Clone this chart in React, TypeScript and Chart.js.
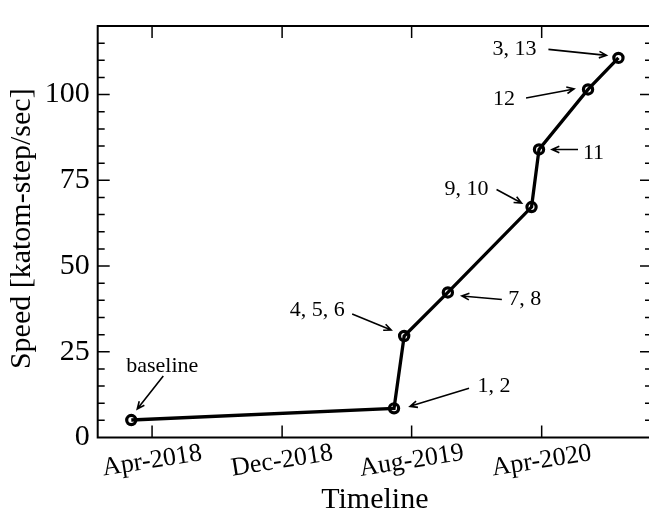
import React, { useEffect, useRef } from 'react';
import { Chart, registerables } from 'chart.js';

Chart.register(...registerables);

// ---- data ----
const DATES = ['2018-02-21', '2019-06-29', '2019-07-18', '2019-10-08', '2020-03-13', '2020-03-27', '2020-06-27', '2020-08-23'];
const SPEED = [5.1, 8.5, 29.6, 42.3, 67.2, 84.0, 101.5, 110.7];
const POINT_LABELS = ['baseline', '1, 2', '4, 5, 6', '7, 8', '9, 10', '11', '12', '3, 13'];

const X_TICK_DATES = ['2018-04-01', '2018-12-01', '2019-08-01', '2020-04-01'];
const X_TICK_LABELS = ['Apr-2018', 'Dec-2018', 'Aug-2019', 'Apr-2020'];
const X_MIN_DATE = '2017-12-20';
const X_MAX_DATE = '2020-10-25';

const Y_TICKS = [0, 25, 50, 75, 100];
const Y_MIN = 0;
const Y_MAX = 120;
const Y_MINOR_STEP = 5;

const X_TITLE = 'Timeline';
const Y_TITLE = 'Speed [katom-step/sec]';

// ---- annotation layout (pixel offsets relative to the marker they point at) ----
const ANNOTATION_LAYOUT = [
  { text: [31, -48], from: [32, -44], tip: [6, -11] },
  { text: [100, -16], from: [75, -20], tip: [16, -2] },
  { text: [-87, -20], from: [-52, -22], tip: [-13, -6] },
  { text: [77, 12.5], from: [54, 7], tip: [14, 3.5] },
  { text: [-65, -12.5], from: [-35, -17.5], tip: [-10, -4] },
  { text: [54.5, 10], from: [39, 0], tip: [13, 0] },
  { text: [-84, 16], from: [-62, 8.5], tip: [-14, -0.5] },
  { text: [-104, -2.5], from: [-70, -8.5], tip: [-12, -2.5] },
];

const FONT = "'Liberation Serif', 'Times New Roman', serif";
const MAJOR_TICK = 12;
const MINOR_TICK = 7;

function toDay(s: string): number {
  const [y, m, d] = s.split('-').map(Number);
  return Date.UTC(y, m - 1, d) / 86400000;
}

function drawArrow(ctx: CanvasRenderingContext2D, x1: number, y1: number, x2: number, y2: number) {
  const ang = Math.atan2(y2 - y1, x2 - x1);
  const head = 8;
  const spread = 0.42;
  ctx.beginPath();
  ctx.moveTo(x1, y1);
  ctx.lineTo(x2, y2);
  ctx.moveTo(x2 - head * Math.cos(ang - spread), y2 - head * Math.sin(ang - spread));
  ctx.lineTo(x2, y2);
  ctx.lineTo(x2 - head * Math.cos(ang + spread), y2 - head * Math.sin(ang + spread));
  ctx.stroke();
}

const decorPlugin = {
  id: 'figureDecor',
  afterDraw(chart: any) {
    const { ctx, chartArea: a, scales } = chart;
    const xs = scales.x;
    const ys = scales.y;
    ctx.save();
    ctx.strokeStyle = '#000';
    ctx.fillStyle = '#000';

    // tick marks (inward, mirrored on all sides)
    ctx.lineWidth = 1.5;
    ctx.beginPath();
    X_TICK_DATES.forEach((d) => {
      const px = xs.getPixelForValue(toDay(d));
      ctx.moveTo(px, a.bottom);
      ctx.lineTo(px, a.bottom - MAJOR_TICK);
      ctx.moveTo(px, a.top);
      ctx.lineTo(px, a.top + MAJOR_TICK);
    });
    for (let v = Y_MIN + Y_MINOR_STEP; v < Y_MAX; v += Y_MINOR_STEP) {
      const py = ys.getPixelForValue(v);
      const len = Y_TICKS.includes(v) ? MAJOR_TICK : MINOR_TICK;
      ctx.moveTo(a.left, py);
      ctx.lineTo(a.left + len, py);
      ctx.moveTo(a.right, py);
      ctx.lineTo(a.right - len, py);
    }
    ctx.stroke();

    // frame
    ctx.lineWidth = 2;
    ctx.strokeRect(a.left, a.top, a.right - a.left, a.bottom - a.top);

    // x tick labels, slightly rotated, centred on their tick
    ctx.font = `26px ${FONT}`;
    ctx.textAlign = 'center';
    ctx.textBaseline = 'middle';
    X_TICK_DATES.forEach((d, i) => {
      const px = xs.getPixelForValue(toDay(d));
      ctx.save();
      ctx.translate(px, a.bottom + 23.5);
      ctx.rotate((-9 * Math.PI) / 180);
      ctx.fillText(X_TICK_LABELS[i], 0, 0);
      ctx.restore();
    });

    // axis titles
    ctx.font = `30px ${FONT}`;
    ctx.textAlign = 'center';
    ctx.textBaseline = 'alphabetic';
    ctx.fillText(X_TITLE, (a.left + a.right) / 2, 508);
    ctx.save();
    ctx.translate(22, (a.top + a.bottom) / 2 - 3);
    ctx.rotate(-Math.PI / 2);
    ctx.textBaseline = 'middle';
    ctx.fillText(Y_TITLE, 0, 0);
    ctx.restore();

    // annotations
    ctx.font = `22px ${FONT}`;
    ctx.textAlign = 'center';
    ctx.textBaseline = 'alphabetic';
    ctx.lineWidth = 1.6;
    POINT_LABELS.forEach((label, i) => {
      const lay = ANNOTATION_LAYOUT[i];
      const px = xs.getPixelForValue(toDay(DATES[i]));
      const py = ys.getPixelForValue(SPEED[i]);
      ctx.fillText(label, px + lay.text[0], py + lay.text[1]);
      drawArrow(ctx, px + lay.from[0], py + lay.from[1], px + lay.tip[0], py + lay.tip[1]);
    });

    ctx.restore();
  },
};

export default function App() {
  const canvasRef = useRef<HTMLCanvasElement | null>(null);

  useEffect(() => {
    const canvas = canvasRef.current;
    if (!canvas) return;
    const chart = new Chart(canvas, {
      type: 'line',
      data: {
        datasets: [
          {
            data: DATES.map((d, i) => ({ x: toDay(d), y: SPEED[i] })),
            borderColor: '#000',
            borderWidth: 3.3,
            backgroundColor: 'rgba(0,0,0,0)',
            pointRadius: 4.6,
            pointBorderWidth: 3.2,
            pointBorderColor: '#000',
            pointBackgroundColor: 'rgba(0,0,0,0)',
            tension: 0,
            fill: false,
          },
        ],
      },
      options: {
        animation: false,
        responsive: false,
        devicePixelRatio: 1,
        layout: { padding: { top: 16.7, right: 8, left: 0, bottom: 0 } },
        plugins: {
          legend: { display: false },
          tooltip: { enabled: false },
          title: { display: false },
        },
        events: [],
        scales: {
          x: {
            type: 'linear',
            position: 'bottom',
            min: toDay(X_MIN_DATE),
            max: toDay(X_MAX_DATE),
            afterBuildTicks: (s: any) => {
              s.ticks = X_TICK_DATES.map((d) => ({ value: toDay(d) }));
            },
            afterFit: (s: any) => {
              s.height = 73.5;
            },
            ticks: { display: false },
            grid: { display: false, drawTicks: false },
            border: { display: false },
          },
          y: {
            type: 'linear',
            position: 'left',
            min: Y_MIN,
            max: Y_MAX,
            afterBuildTicks: (s: any) => {
              s.ticks = Y_TICKS.map((v) => ({ value: v }));
            },
            afterFit: (s: any) => {
              s.width = 97.7;
            },
            ticks: {
              color: '#000',
              padding: 8,
              font: { family: FONT, size: 30 },
            },
            grid: { display: false, drawTicks: false },
            border: { display: false },
          },
        },
      },
      plugins: [decorPlugin],
    } as any);
    return () => chart.destroy();
  }, []);

  return (
    <div
      style={{
        position: 'fixed',
        left: 0,
        top: 0,
        width: 649,
        height: 511,
        overflow: 'hidden',
        background: '#fff',
      }}
    >
      <canvas ref={canvasRef} width={660} height={511} style={{ display: 'block' }} />
    </div>
  );
}
